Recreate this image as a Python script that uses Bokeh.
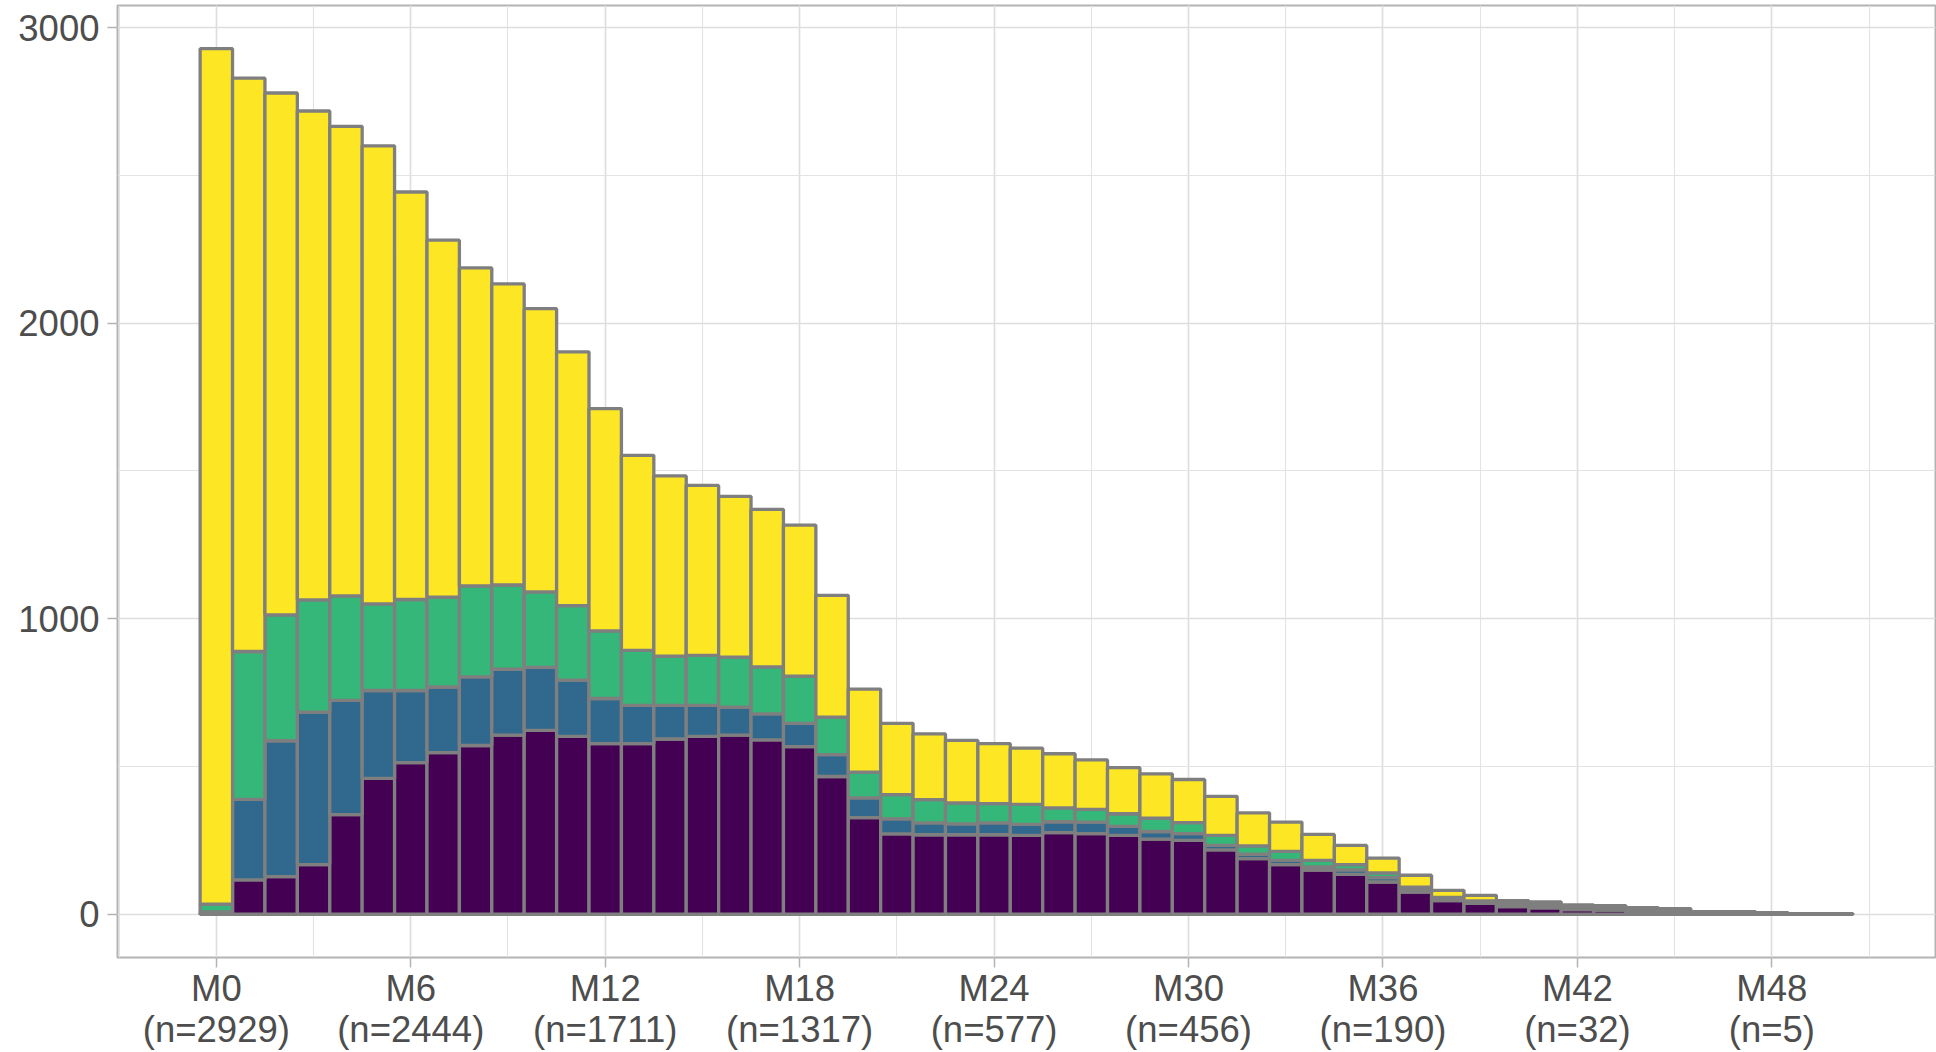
from bokeh.plotting import figure
from bokeh.models import ColumnDataSource, Range1d, SingleIntervalTicker
from bokeh.embed import file_html
from bokeh.resources import INLINE

months = list(range(51))
purple = [3, 116, 127, 168, 337, 460, 513, 547, 571, 606, 622, 602, 577, 577, 593, 602, 606, 590, 567, 466,
          327, 272, 269, 269, 269, 267, 276, 273, 267, 254, 250, 218, 188, 168, 149, 135, 109, 75, 46, 37,
          26, 22, 16, 14, 9, 7, 3, 3, 2, 1, 1]
blue = [5, 273, 460, 516, 387, 297, 244, 222, 232, 223, 213, 190, 153, 130, 114, 105, 95, 88, 79, 74,
        67, 51, 40, 37, 40, 37, 37, 39, 30, 26, 23, 15, 15, 14, 11, 15, 15, 8, 5, 4,
        5, 5, 4, 4, 3, 3, 2, 2, 1, 0, 0]
green = [26, 500, 426, 380, 353, 293, 308, 304, 308, 285, 256, 252, 229, 186, 166, 169, 169, 159, 160, 127,
         87, 82, 79, 71, 65, 68, 47, 43, 43, 45, 37, 34, 28, 31, 22, 18, 16, 9, 6, 4,
         6, 6, 5, 4, 4, 4, 2, 2, 1, 0, 0]
yellow = [2895, 1940, 1766, 1654, 1589, 1550, 1379, 1208, 1076, 1019, 958, 859, 752, 660, 610, 575, 544, 533, 511, 412,
          281, 241, 222, 211, 203, 190, 183, 167, 156, 150, 146, 132, 112, 99, 88, 65, 50, 40, 24, 19,
          9, 9, 7, 7, 6, 5, 2, 2, 1, 1, 1]

tick_months = [0, 6, 12, 18, 24, 30, 36, 42, 48]
tick_n = [2929, 2444, 1711, 1317, 577, 456, 190, 32, 5]

series = ["cat1", "cat2", "cat3", "cat4"]
colors = ["#440154", "#31688E", "#35B779", "#FDE725"]

src = ColumnDataSource(dict(x=months, cat1=purple, cat2=blue, cat3=green, cat4=yellow))

p = figure(width=1936, height=1052, output_backend="svg", toolbar_location=None,
           x_range=Range1d(-3.05, 53.05), y_range=Range1d(-146.4, 3075),
           min_border_left=117, min_border_top=5, min_border_right=1, min_border_bottom=0)

p.vbar_stack(series, x="x", width=1.0, source=src, fill_color=colors,
             line_color="#7F7F7F", line_width=3.3)

p.xaxis.ticker = SingleIntervalTicker(interval=6, num_minor_ticks=2)
p.yaxis.ticker = SingleIntervalTicker(interval=1000, num_minor_ticks=2)
p.xaxis.major_label_overrides = {m: f"M{m}\n(n={n})" for m, n in zip(tick_months, tick_n)}

for ax in (p.xaxis[0], p.yaxis[0]):
    ax.axis_line_color = None
    ax.major_tick_line_color = "#B3B3B3"
    ax.major_tick_line_width = 1.5
    ax.major_tick_out = 10
    ax.major_tick_in = 0
    ax.minor_tick_line_color = None
    ax.major_label_text_font = "Liberation Sans"
    ax.major_label_text_font_size = "36.5px"
    ax.major_label_text_color = "#4D4D4D"

p.xaxis.major_label_text_line_height = 1.0
p.yaxis.major_label_standoff = 8
p.xaxis.major_label_standoff = 0

p.xgrid.grid_line_color = "#DEDEDE"
p.ygrid.grid_line_color = "#DEDEDE"
p.xgrid.grid_line_width = 1.6
p.ygrid.grid_line_width = 1.6
p.xgrid.minor_grid_line_color = "#E3E3E3"
p.ygrid.minor_grid_line_color = "#E3E3E3"
p.xgrid.minor_grid_line_width = 1.1
p.ygrid.minor_grid_line_width = 1.1

p.outline_line_color = "#B3B3B3"
p.outline_line_width = 2
p.background_fill_color = "white"
p.border_fill_color = "white"

open("out.html", "w").write(file_html(p, INLINE))
